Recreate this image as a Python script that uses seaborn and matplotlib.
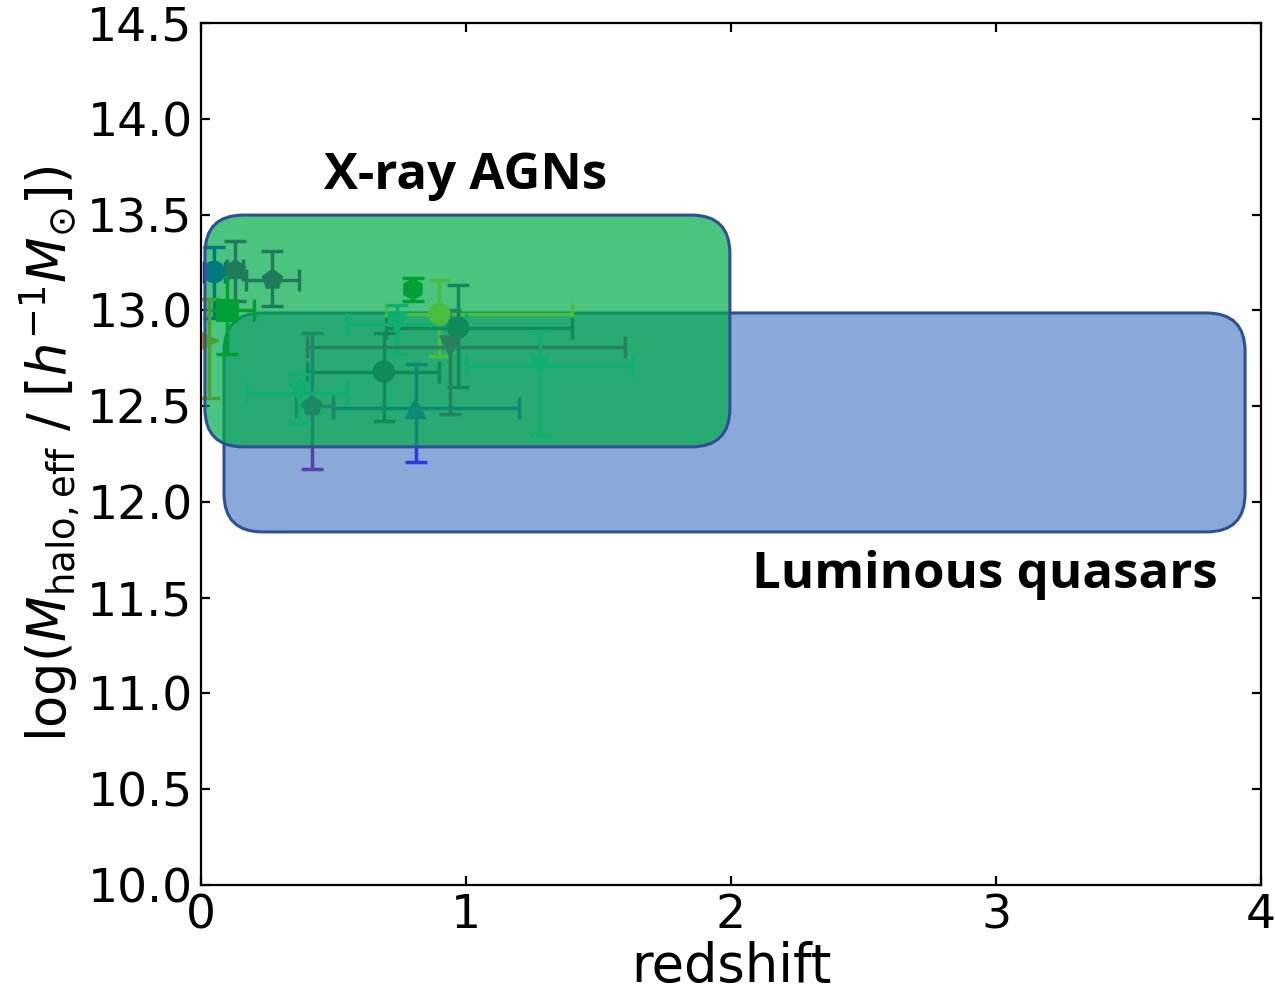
import numpy as np
import pandas as pd
import matplotlib
matplotlib.use("Agg")
import matplotlib.pyplot as plt
import seaborn as sns
from matplotlib.patches import FancyBboxPatch

# ---- data ----
point_id = ["p01", "p02", "p03", "p04", "p05", "p06", "p07", "p08",
            "p09", "p10", "p11", "p12", "p13", "p14", "p15"]
redshift = [0.05, 0.13, 0.27, 0.10, 0.80, 0.90, 0.97, 0.74,
            0.94, 1.28, 0.69, 0.81, 0.42, 0.37, 0.03]
log_mhalo = [13.20, 13.21, 13.16, 13.00, 13.11, 12.98, 12.91, 12.93,
             12.81, 12.71, 12.68, 12.49, 12.50, 12.57, 12.84]
y_err_lo = [0.24, 0.16, 0.14, 0.23, 0.06, 0.22, 0.31, 0.16,
            0.35, 0.36, 0.26, 0.28, 0.33, 0.16, 0.30]
y_err_hi = [0.13, 0.15, 0.15, 0.18, 0.06, 0.18, 0.22, 0.10,
            0.19, 0.18, 0.20, 0.23, 0.38, 0.10, 0.22]
x_err_lo = [0.04, 0.03, 0.10, 0.07, 0.00, 0.20, 0.27, 0.19,
            0.54, 0.28, 0.29, 0.31, 0.06, 0.20, 0.00]
x_err_hi = [0.04, 0.03, 0.10, 0.10, 0.00, 0.50, 0.43, 0.26,
            0.66, 0.35, 0.21, 0.39, 0.08, 0.18, 0.00]
point_colors = ["#0000ff", "#6b0382", "#6b0382", "#008200", "#008200",
                "#ffe628", "#353982", "#35b7cb", "#8c1796", "#35b7cb",
                "#353982", "#283ce1", "#5a3caa", "#35b7cb", "#eb8c00"]
point_markers = ["o", "p", "p", "s", "h", "o", "o", "v",
                 "v", "v", "o", "^", "p", "v", ">"]

# regions: (x0, x1, y0, y1)
xray_box = (0.015, 1.996, 12.287, 13.497)
quasar_box = (0.087, 3.940, 11.843, 12.986)
xray_label = "X-ray AGNs"
quasar_label = "Luminous quasars"

df = pd.DataFrame({"id": point_id, "z": redshift, "m": log_mhalo})

sns.set_style("ticks")
plt.rcParams["font.family"] = "sans-serif"
plt.rcParams["font.sans-serif"] = ["DejaVu Sans"]
plt.rcParams["mathtext.fontset"] = "dejavusans"
for k in ["text.color", "axes.labelcolor", "xtick.color", "ytick.color",
          "axes.edgecolor"]:
    plt.rcParams[k] = "black"

fig = plt.figure(figsize=(6.375, 4.97), dpi=200)
ax = fig.add_axes([0.1576, 0.1097, 0.8314, 0.8672])

xlim = (0, 4)
ylim = (10.0, 14.5)
ax.set_xlim(*xlim)
ax.set_ylim(*ylim)

# aspect factor so the rounded corners look circular on screen
ax_w_px = 0.8314 * 6.375 * 200
ax_h_px = 0.8672 * 4.97 * 200
asp = (ax_w_px / (xlim[1] - xlim[0])) / (ax_h_px / (ylim[1] - ylim[0]))

edge = "#2f4f96"
qb = FancyBboxPatch((quasar_box[0], quasar_box[2]),
                    quasar_box[1] - quasar_box[0], quasar_box[3] - quasar_box[2],
                    boxstyle="round,pad=0,rounding_size=0.145",
                    mutation_aspect=asp, facecolor="#8aa8d8",
                    edgecolor=edge, linewidth=1.1, zorder=1)
ax.add_patch(qb)

# error bars
for i in range(len(point_id)):
    ax.errorbar(redshift[i], log_mhalo[i],
                xerr=[[x_err_lo[i]], [x_err_hi[i]]] if x_err_hi[i] > 0 else None,
                yerr=[[y_err_lo[i]], [y_err_hi[i]]],
                fmt="none", ecolor=point_colors[i], elinewidth=1.25,
                capsize=3.9, capthick=1.25, zorder=2)

sns.scatterplot(data=df, x="z", y="m", hue="id", style="id",
                palette=dict(zip(point_id, point_colors)),
                markers=dict(zip(point_id, point_markers)),
                s=66, linewidth=0, legend=False, ax=ax, zorder=2.5)

xb = FancyBboxPatch((xray_box[0], xray_box[2]),
                    xray_box[1] - xray_box[0], xray_box[3] - xray_box[2],
                    boxstyle="round,pad=0,rounding_size=0.145",
                    mutation_aspect=asp, facecolor=(0.0, 0.68, 0.29, 0.71),
                    edgecolor=edge, linewidth=1.1, zorder=3)
ax.add_patch(xb)

lab_font = dict(fontsize=18.3, fontweight="bold", family=["Open Sans", "DejaVu Sans"])
ax.text(1.0, 13.70, xray_label, ha="center", va="center", zorder=4, **lab_font)
ax.text(2.96, 11.62, quasar_label, ha="center", va="center", zorder=4, **lab_font)

ax.set_xticks([0, 1, 2, 3, 4])
ax.set_yticks(np.arange(10.0, 14.51, 0.5))
ax.set_yticklabels([f"{v:.1f}" for v in np.arange(10.0, 14.51, 0.5)])
ax.tick_params(direction="in", top=True, right=True, length=3.3, width=0.8,
               labelsize=17, pad=3)
for sp in ax.spines.values():
    sp.set_linewidth(0.8)
    sp.set_color("black")

ax.set_xlabel("redshift", fontsize=19, labelpad=1)
ax.set_ylabel(r"log($M_{\rm halo,eff}$ / [$h^{-1}M_{\odot}$])", fontsize=19,
              labelpad=2)

fig.savefig("out.png", dpi=200)
